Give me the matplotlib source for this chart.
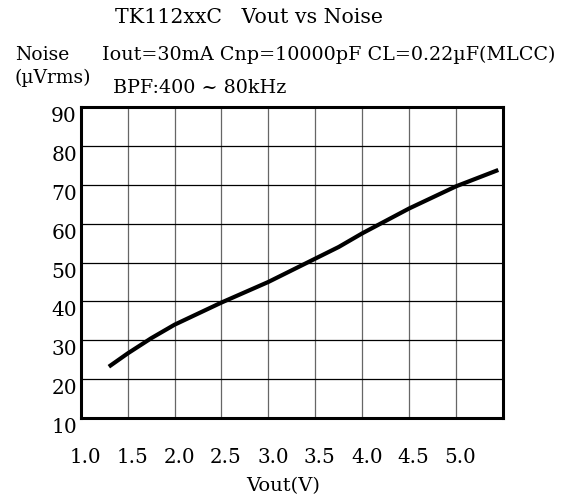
import matplotlib
matplotlib.use('Agg')
import matplotlib.pyplot as plt
import matplotlib.transforms as mtransforms

plt.rcParams['font.family'] = ['DejaVu Serif', 'Liberation Serif']

# data
vout = [1.3, 1.5, 1.75, 2.0, 2.5, 3.0, 3.5, 3.75, 4.0, 4.5, 5.0, 5.45]
noise = [23.2, 26.6, 30.5, 34.0, 39.7, 45.0, 51.0, 54.0, 57.5, 63.9, 69.6, 73.8]
xticks = [1.0, 1.5, 2.0, 2.5, 3.0, 3.5, 4.0, 4.5, 5.0, 5.5]
xticklabels = ['1.0', '1.5', '2.0', '2.5', '3.0', '3.5', '4.0', '4.5', '5.0', '']
yticks = [10, 20, 30, 40, 50, 60, 70, 80, 90]

W, H = 569, 500
fig = plt.figure(figsize=(W/100, H/100), dpi=100)
ax = fig.add_axes([80.7/W, 1-418/H, (503-80.7)/W, (418-107)/H])

def ftext(x, y, s, **kw):
	fig.text(x/W, 1-y/H, s, va='baseline', **kw)

ax.plot(vout, noise, color='black', linewidth=3.0, solid_capstyle='butt')

ax.set_xlim(1.0, 5.5)
ax.set_ylim(10, 90)
ax.set_xticks(xticks)
ax.set_xticklabels(xticklabels, fontsize=14.3)
ax.set_yticks(yticks)
ax.set_yticklabels([str(v) for v in yticks], fontsize=14.5)
ax.tick_params(axis='x', length=0, pad=21.5)
ax.tick_params(axis='y', length=0, pad=2.7)
for lab in ax.get_yticklabels():
	lab.set_verticalalignment('top')
off = mtransforms.ScaledTranslation(0.045, 0, fig.dpi_scale_trans)
for lab in ax.get_xticklabels():
	lab.set_transform(lab.get_transform() + off)

ax.grid(True, axis='y', color='black', linewidth=0.9)
ax.grid(True, axis='x', color='#666666', linewidth=0.9)
for sp in ax.spines.values():
	sp.set_linewidth(2.2)

ftext(115, 23, 'TK112xxC   Vout vs Noise', fontsize=14.8)
ftext(15, 59.5, 'Noise', fontsize=13.5)
ftext(15, 83, '(µVrms)', fontsize=13.5)
ftext(102, 59.5, 'Iout=30mA Cnp=10000pF CL=0.22µF(MLCC)', fontsize=13.75)
ftext(113, 93, 'BPF:400 ~ 80kHz', fontsize=13.75)
ftext(283, 491, 'Vout(V)', fontsize=14, ha='center')

fig.savefig('out.png', dpi=100)
